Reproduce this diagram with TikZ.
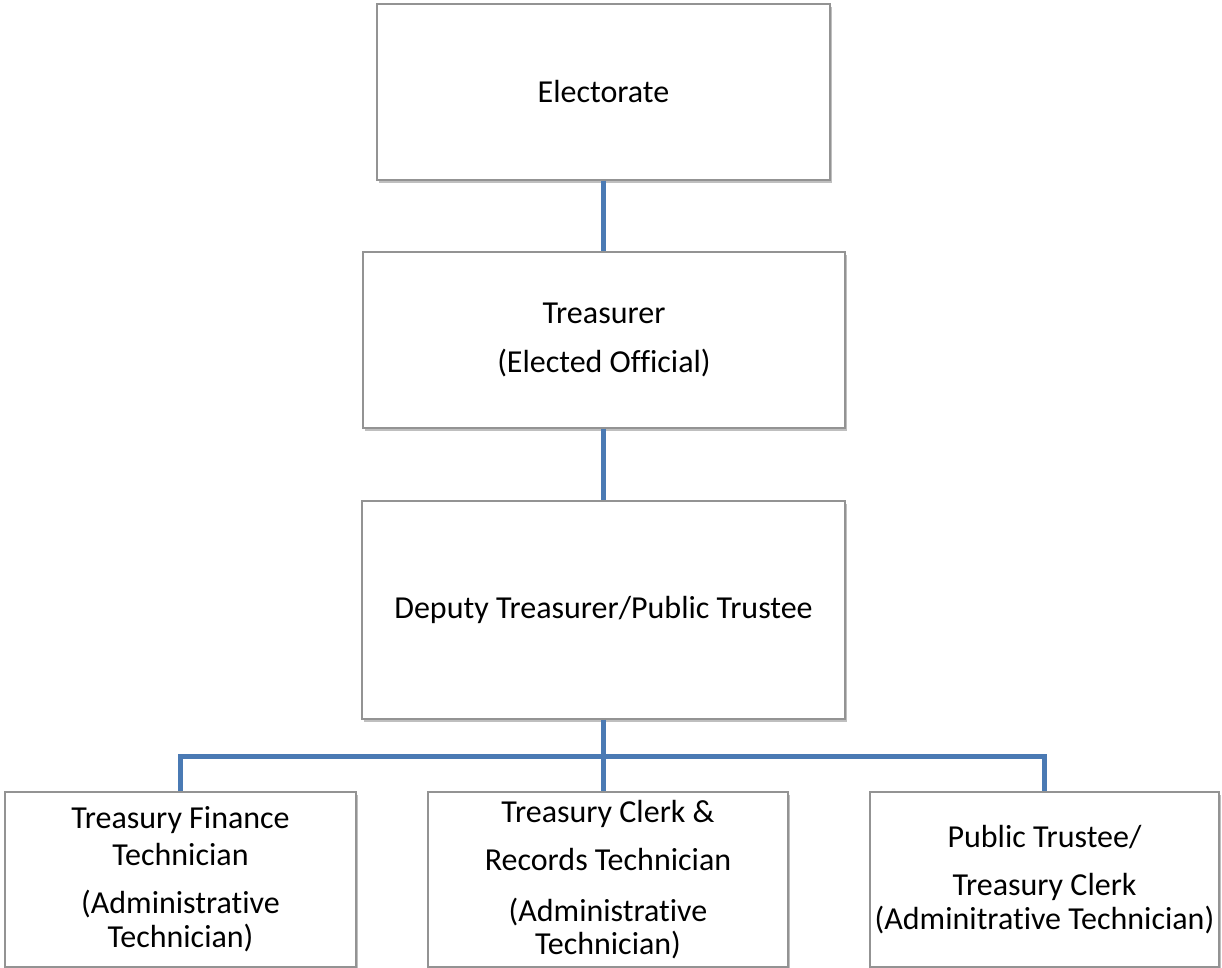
\documentclass[tikz,border=0pt]{standalone}
\usepackage{fontspec}
\setmainfont{Carlito}[Ligatures=NoCommon]
\usetikzlibrary{shadows}
\definecolor{linkblue}{RGB}{74,122,180}
\tikzset{post/.style={draw=gray!85, line width=0.6pt, fill=white, align=center, inner sep=0pt,
  font=\fontsize{16}{18.5}\selectfont,
  drop shadow={shadow xshift=1pt, shadow yshift=-1.5pt, opacity=0.25, fill=black}}}
\tikzset{link/.style={draw=linkblue, line width=2.5pt}}
\begin{document}
\begin{tikzpicture}[x=0.5pt, y=-0.5pt]
\useasboundingbox (0,0) rectangle (1222,968);
\node [post, minimum width=226.5pt, minimum height=88pt] (elect) at (603.5,92) {Electorate};
\node [post, minimum width=241pt, minimum height=88pt] (treas) at (604,340) {Treasurer\\[6pt](Elected Official)};
\node [post, minimum width=241.5pt, minimum height=109pt] (deputy) at (603.5,610) {Deputy Treasurer/Public Trustee};
\node [post, minimum width=175.5pt, minimum height=87.5pt] (finance) at (180.5,879.5) {Treasury Finance\\Technician\\[5.5pt](Administrative\\[-1.5pt]Technician)};
\node [post, minimum width=180pt, minimum height=87.5pt] (records) at (608,879.5) {Treasury Clerk \&\\[5.5pt]Records Technician\\[7pt](Administrative\\[-2pt]Technician)};
\node [post, minimum width=174.5pt, minimum height=87.5pt] (clerk) at (1044.5,879.5) {Public Trustee/\\[5.5pt]Treasury Clerk\\[-1.5pt](Adminitrative Technician)};
\coordinate (bus) at (603,756);
\draw [link] (elect.south -| bus) -- (treas.north -| bus);
\draw [link] (treas.south -| bus) -- (deputy.north -| bus);
\draw [link] (deputy.south -| bus) -- (records.north -| bus);
\draw [link] (finance.north) |- (bus) -| (clerk.north);
\end{tikzpicture}
\end{document}
